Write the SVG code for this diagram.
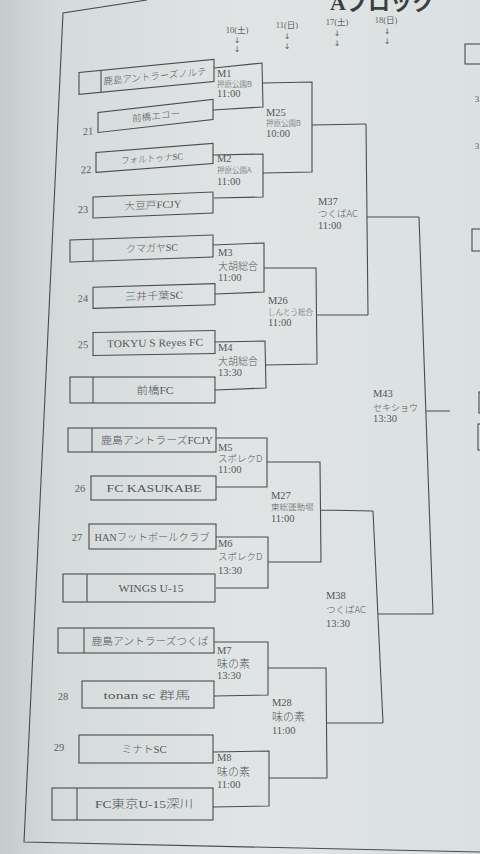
<svg xmlns="http://www.w3.org/2000/svg" width="480" height="854" viewBox="0 0 480 854">
<defs>
<linearGradient id="bg" x1="0" y1="0" x2="1" y2="0">
<stop offset="0" stop-color="#c6cbcb"/>
<stop offset="0.12" stop-color="#d5dada"/>
<stop offset="0.5" stop-color="#e0e4e4"/>
<stop offset="1" stop-color="#dbe0e0"/>
</linearGradient>
<style>
.ln{fill:none;stroke:#4a4d4e;stroke-width:1.1}
.bx{fill:none;stroke:#4a4d4e;stroke-width:1.1}
.tn{font-family:"Liberation Serif","Noto Sans CJK JP",serif;font-weight:300;fill:#555859;text-anchor:middle}
.id{font-family:"Liberation Serif",serif;font-size:10.5px;fill:#555859}
.vn{font-family:"Noto Sans CJK JP",sans-serif;font-weight:300;font-size:8px;fill:#555859}
.tm{font-family:"Liberation Serif",serif;font-size:10.5px;fill:#555859}
.sd{font-family:"Liberation Serif",serif;font-size:10.5px;fill:#5e6162;text-anchor:middle}
.dt{font-family:"Liberation Serif","Noto Sans CJK JP",serif;font-size:8.5px;fill:#5e6162;text-anchor:middle}
.ar{font-family:"DejaVu Sans",sans-serif;font-size:8px;fill:#5e6162;text-anchor:middle}
.ti{font-family:"Liberation Serif","Noto Sans CJK JP",serif;font-size:22px;font-weight:bold;fill:#3c3f40}
</style>
</defs>
<rect x="0" y="0" width="480" height="854" fill="url(#bg)"/>

<g id="page">
<path class="ln" d="M147,0 L63,13 L24,842 L480,852"/>
<text class="ti" x="330" y="10">Aブロック</text>
<rect class="bx" x="465" y="44" width="30" height="20"/>
<text class="sd" x="477" y="102" style="font-size:9px">3</text>
<text class="sd" x="477" y="149" style="font-size:9px">3</text>
<rect class="bx" x="472" y="229" width="30" height="22"/>
<rect class="bx" x="479" y="392" width="30" height="21"/>
<rect class="bx" x="478" y="424" width="30" height="26"/>
</g>

<g id="dates">
<text class="dt" x="237" y="33">10(土)</text>
<text class="ar" x="237" y="43">↓</text>
<text class="ar" x="237" y="52">↓</text>
<text class="dt" x="287" y="28">11(日)</text>
<text class="ar" x="287" y="39">↓</text>
<text class="ar" x="287" y="49">↓</text>
<text class="dt" x="337" y="25">17(土)</text>
<text class="ar" x="337" y="36">↓</text>
<text class="ar" x="337" y="46">↓</text>
<text class="dt" x="386" y="23">18(日)</text>
<text class="ar" x="387" y="34">↓</text>
<text class="ar" x="387" y="44">↓</text>
</g>

<g id="connectors">
<path class="ln" d="M214,68 L262,63 L263,107 L213,110"/>
<path class="ln" d="M213,155 L263,154 L263,197 L214,198"/>
<path class="ln" d="M263,83 L312,82 L312,172 L263,173 M312,125 L366,124"/>
<path class="ln" d="M213,245 L264,243 L264,292 L215,294"/>
<path class="ln" d="M215,342 L265,341 L266,388 L215,390"/>
<path class="ln" d="M264,268 L316,268 L317,364 L266,365 M317,315 L368,315"/>
<path class="ln" d="M366,124 L368,315 M367,217 L419,217"/>
<path class="ln" d="M216,438 L267,438 L267,487 L216,487"/>
<path class="ln" d="M216,537 L268,537 L268,588 L216,588"/>
<path class="ln" d="M267,462 L320,462 L321,562 L268,562 M321,510 L373,511"/>
<path class="ln" d="M214,642 L268,642 L268,695 L214,696"/>
<path class="ln" d="M213,752 L269,751 L269,806 L213,807"/>
<path class="ln" d="M268,668 L326,668 L327,778 L269,778 M327,723 L383,723"/>
<path class="ln" d="M373,511 L383,723 M378,614 L433,614"/>
<path class="ln" d="M419,217 L433,614 M426,411 L450,411"/>
</g>

<g id="t1" transform="translate(146,77) skewY(-5.5) translate(-146,-77)">
<rect class="bx" x="79" y="66" width="135" height="22"/><line class="bx" x1="101" y1="66" x2="101" y2="88"/>
<text class="tn" x="155" y="80.5" style="font-size:9.5px" textLength="103" lengthAdjust="spacingAndGlyphs">鹿島アントラーズノルテ</text>
</g>
<g id="t2" transform="translate(155,116) skewY(-6.5) translate(-155,-116)">
<text class="sd" x="88" y="127">21</text>
<rect class="bx" x="98" y="106" width="115" height="20"/>
<text class="tn" x="156" y="119.5" style="font-size:9.5px" textLength="48" lengthAdjust="spacingAndGlyphs">前橋エコー</text>
</g>
<g id="t3" transform="translate(154,158) skewY(-4.4) translate(-154,-158)">
<text class="sd" x="86" y="168">22</text>
<rect class="bx" x="96" y="148" width="117" height="20"/>
<text class="tn" x="152" y="161.5" style="font-size:9px" textLength="62" lengthAdjust="spacingAndGlyphs">フォルトゥナSC</text>
</g>
<g id="t4" transform="translate(153,205) skewY(-2.4) translate(-153,-205)">
<text class="sd" x="83" y="210">23</text>
<rect class="bx" x="93" y="194.5" width="120" height="21"/>
<text class="tn" x="153" y="208.5" style="font-size:10px" textLength="57" lengthAdjust="spacingAndGlyphs">大豆戸FCJY</text>
</g>
<g id="t5" transform="translate(141,248.5) skewY(-2) translate(-141,-248.5)">
<rect class="bx" x="70" y="237.5" width="143" height="22"/><line class="bx" x1="93" y1="237.5" x2="93" y2="259.5"/>
<text class="tn" x="152" y="252" style="font-size:10px" textLength="52" lengthAdjust="spacingAndGlyphs">クマガヤSC</text>
</g>
<g id="t6" transform="translate(154,296) skewY(-1.7) translate(-154,-296)">
<text class="sd" x="83" y="300">24</text>
<rect class="bx" x="93" y="285.5" width="122" height="21"/>
<text class="tn" x="154" y="299.5" style="font-size:10.5px" textLength="58" lengthAdjust="spacingAndGlyphs">三井千葉SC</text>
</g>
<g id="t7" transform="translate(154,343) skewY(-1) translate(-154,-343)">
<text class="sd" x="83" y="347">25</text>
<rect class="bx" x="93" y="331.5" width="122" height="23"/>
<text class="tn" x="155" y="346.5" style="font-size:10.5px" textLength="96" lengthAdjust="spacingAndGlyphs">TOKYU S Reyes FC</text>
</g>
<g id="t8">
<rect class="bx" x="70" y="377" width="145" height="26"/><line class="bx" x1="93" y1="377" x2="93" y2="403"/>
<text class="tn" x="155" y="394" style="font-size:10.5px" textLength="37" lengthAdjust="spacingAndGlyphs">前橋FC</text>
</g>
<g id="t9">
<rect class="bx" x="68" y="428" width="148" height="24"/><line class="bx" x1="92" y1="428" x2="92" y2="452"/>
<text class="tn" x="157" y="443.5" style="font-size:10.5px" textLength="112" lengthAdjust="spacingAndGlyphs">鹿島アントラーズFCJY</text>
</g>
<g id="t10">
<text class="sd" x="80" y="492">26</text>
<rect class="bx" x="91" y="476" width="125" height="24"/>
<text class="tn" x="154" y="492" style="font-size:11px" textLength="95" lengthAdjust="spacingAndGlyphs">FC KASUKABE</text>
</g>
<g id="t11">
<text class="sd" x="77" y="541">27</text>
<rect class="bx" x="89" y="524" width="127" height="25"/>
<text class="tn" x="152" y="540.5" style="font-size:10.5px" textLength="115" lengthAdjust="spacingAndGlyphs">HANフットボールクラブ</text>
</g>
<g id="t12">
<rect class="bx" x="63" y="574" width="152" height="28"/><line class="bx" x1="87" y1="574" x2="87" y2="602"/>
<text class="tn" x="151" y="592" style="font-size:10.5px" textLength="65" lengthAdjust="spacingAndGlyphs">WINGS U-15</text>
</g>
<g id="t13">
<rect class="bx" x="58" y="628" width="156" height="25"/><line class="bx" x1="84" y1="628" x2="84" y2="653"/>
<text class="tn" x="150" y="644.5" style="font-size:10.5px" textLength="117" lengthAdjust="spacingAndGlyphs">鹿島アントラーズつくば</text>
</g>
<g id="t14">
<text class="sd" x="63" y="700">28</text>
<rect class="bx" x="82" y="681" width="132" height="27"/>
<text class="tn" x="147" y="698.5" style="font-size:10.5px" textLength="87" lengthAdjust="spacingAndGlyphs">tonan sc 群馬</text>
</g>
<g id="t15">
<text class="sd" x="59" y="751">29</text>
<rect class="bx" x="79" y="735" width="134" height="28"/>
<text class="tn" x="144" y="753" style="font-size:10.5px" textLength="45" lengthAdjust="spacingAndGlyphs">ミナトSC</text>
</g>
<g id="t16">
<rect class="bx" x="52" y="788" width="161" height="32"/><line class="bx" x1="77" y1="788" x2="77" y2="820"/>
<text class="tn" x="144" y="808" style="font-size:11px" textLength="98" lengthAdjust="spacingAndGlyphs">FC東京U-15深川</text>
</g>

<g id="m1"><text class="id" x="217" y="76.5">M1</text><text class="vn" x="217" y="86.5" style="font-size:7.5px">押原公園B</text><text class="tm" x="217" y="97">11:00</text></g>
<g id="m25"><text class="id" x="266" y="115.5">M25</text><text class="vn" x="266" y="126" style="font-size:7.5px">押原公園B</text><text class="tm" x="266" y="137">10:00</text></g>
<g id="m2"><text class="id" x="217" y="161.5">M2</text><text class="vn" x="217" y="173" style="font-size:7.5px">押原公園A</text><text class="tm" x="217" y="185">11:00</text></g>
<g id="m37"><text class="id" x="318" y="204.5">M37</text><text class="vn" x="318" y="217" style="font-size:9.5px">つくばAC</text><text class="tm" x="318" y="229">11:00</text></g>
<g id="m3"><text class="id" x="218" y="256">M3</text><text class="vn" x="218" y="269.5" style="font-size:10px">大胡総合</text><text class="tm" x="218" y="281">11:00</text></g>
<g id="m26"><text class="id" x="268" y="303.5">M26</text><text class="vn" x="268" y="314.5" style="font-size:7.5px">しんとう総合</text><text class="tm" x="268" y="326">11:00</text></g>
<g id="m4"><text class="id" x="218" y="351">M4</text><text class="vn" x="218" y="364.5" style="font-size:10px">大胡総合</text><text class="tm" x="218" y="376">13:30</text></g>
<g id="m5"><text class="id" x="218" y="450.5">M5</text><text class="vn" x="218" y="462" style="font-size:9.5px">スポレクD</text><text class="tm" x="218" y="473">11:00</text></g>
<g id="m27"><text class="id" x="271" y="498.5">M27</text><text class="vn" x="271" y="509.5" style="font-size:8.5px">東総運動場</text><text class="tm" x="271" y="522">11:00</text></g>
<g id="m6"><text class="id" x="218" y="546.5">M6</text><text class="vn" x="218" y="560" style="font-size:9.5px">スポレクD</text><text class="tm" x="218" y="574">13:30</text></g>
<g id="m43"><text class="id" x="373" y="396.5">M43</text><text class="vn" x="373" y="411" style="font-size:9px">セキショウ</text><text class="tm" x="373" y="422">13:30</text></g>
<g id="m38"><text class="id" x="326" y="598.5">M38</text><text class="vn" x="326" y="613" style="font-size:9.5px">つくばAC</text><text class="tm" x="326" y="627">13:30</text></g>
<g id="m7"><text class="id" x="217" y="653.5">M7</text><text class="vn" x="217" y="667.5" style="font-size:11px">味の素</text><text class="tm" x="217" y="679">13:30</text></g>
<g id="m28"><text class="id" x="272" y="705.5">M28</text><text class="vn" x="272" y="720.5" style="font-size:11px">味の素</text><text class="tm" x="272" y="734">11:00</text></g>
<g id="m8"><text class="id" x="217" y="760.5">M8</text><text class="vn" x="217" y="776" style="font-size:11px">味の素</text><text class="tm" x="217" y="788">11:00</text></g>
</svg>
